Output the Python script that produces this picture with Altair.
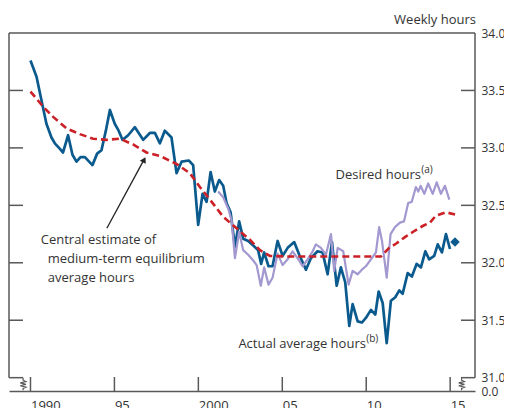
import altair as alt
import pandas as pd

# ---------------- data ----------------
actual_year = [1990.00, 1990.36, 1990.66, 1990.95, 1991.25, 1991.45, 1991.70, 1991.94, 1992.24, 1992.50,
               1992.74, 1992.98, 1993.24, 1993.69, 1993.97, 1994.23, 1994.49, 1994.73, 1995.02, 1995.25,
               1995.48, 1995.82, 1996.22, 1996.71, 1997.11, 1997.41, 1997.71, 1998.00, 1998.40, 1998.70,
               1999.00, 1999.43, 1999.69, 1999.99, 2000.25, 2000.49, 2000.73, 2000.98, 2001.24, 2001.48,
               2001.68, 2001.92, 2002.18, 2002.43, 2002.67, 2002.97, 2003.27, 2003.56, 2003.74, 2003.92,
               2004.18, 2004.42, 2004.72, 2005.02, 2005.32, 2005.71, 2006.01, 2006.41, 2006.70, 2007.10,
               2007.40, 2007.70, 2007.96, 2008.24, 2008.49, 2008.75, 2008.99, 2009.19, 2009.49, 2009.74,
               2009.98, 2010.28, 2010.54, 2010.74, 2010.98, 2011.22, 2011.47, 2011.73, 2011.97, 2012.17,
               2012.47, 2012.72, 2013.00, 2013.26, 2013.52, 2013.75, 2014.05, 2014.26, 2014.51, 2014.75,
               2014.99]
actual_hours = [33.76, 33.62, 33.41, 33.21, 33.09, 33.04, 33.00, 32.96, 33.11, 32.94,
                32.88, 32.92, 32.92, 32.85, 32.95, 32.98, 33.15, 33.33, 33.21, 33.15,
                33.07, 33.11, 33.18, 33.07, 33.13, 33.13, 33.04, 33.15, 33.09, 32.78,
                32.88, 32.89, 32.85, 32.33, 32.60, 32.53, 32.79, 32.62, 32.72, 32.67,
                32.52, 32.44, 32.14, 32.36, 32.21, 32.19, 32.15, 32.11, 31.99, 32.09,
                31.97, 31.97, 32.19, 32.06, 32.13, 32.18, 32.07, 31.94, 32.04, 32.10,
                32.09, 31.90, 32.18, 31.80, 31.96, 31.83, 31.45, 31.64, 31.49, 31.48,
                31.52, 31.59, 31.55, 31.75, 31.65, 31.30, 31.67, 31.70, 31.76, 31.73,
                31.91, 31.88, 31.99, 31.96, 32.10, 32.03, 32.06, 32.16, 32.09, 32.25,
                32.12]

desired_year = [2001.18, 2001.48, 2001.78, 2001.98, 2002.18, 2002.43, 2002.67, 2002.97, 2003.27, 2003.47,
                2003.72, 2003.92, 2004.18, 2004.42, 2004.72, 2005.02, 2005.32, 2005.61, 2005.91, 2006.21,
                2006.51, 2006.81, 2007.00, 2007.30, 2007.60, 2007.90, 2008.09, 2008.30, 2008.63, 2008.95,
                2009.19, 2009.49, 2009.74, 2009.98, 2010.28, 2010.58, 2010.77, 2010.94, 2011.22, 2011.45,
                2011.71, 2012.01, 2012.25, 2012.50, 2012.71, 2012.96, 2013.10, 2013.24, 2013.46, 2013.69,
                2013.96, 2014.20, 2014.45, 2014.69, 2014.95]
desired_hours = [32.62, 32.57, 32.47, 32.37, 32.04, 32.27, 32.11, 32.07, 32.02, 31.98,
                 31.80, 31.96, 31.81, 31.87, 32.08, 31.98, 32.03, 32.10, 32.04, 31.97,
                 32.03, 32.10, 32.16, 32.13, 32.07, 32.25, 31.93, 32.13, 32.10, 31.81,
                 31.93, 31.90, 31.94, 31.97, 32.03, 32.09, 32.31, 32.19, 31.87, 32.25,
                 32.31, 32.35, 32.36, 32.52, 32.53, 32.66, 32.62, 32.67, 32.60, 32.69,
                 32.60, 32.70, 32.60, 32.67, 32.55]

central_year = [1990.00, 1990.75, 1991.35, 1992.15, 1992.94, 1993.73, 1994.53, 1995.32, 1996.11, 1996.91,
                1997.71, 1998.70, 1999.49, 2000.09, 2000.69, 2001.48, 2002.28, 2003.07, 2003.67, 2004.26,
                2005.26, 2010.88, 2011.37, 2011.81, 2012.37, 2012.80, 2013.36, 2013.80, 2014.15, 2014.75,
                2015.29]
central_hours = [33.49, 33.36, 33.27, 33.17, 33.12, 33.08, 33.07, 33.08, 33.03, 32.96,
                 32.93, 32.86, 32.78, 32.66, 32.55, 32.40, 32.30, 32.20, 32.11, 32.06,
                 32.055, 32.055, 32.13, 32.17, 32.23, 32.27, 32.32, 32.35, 32.41, 32.44,
                 32.42]

latest_year = [2015.29]
latest_hours = [32.18]

x_tick_years = [1990, 1995, 2000, 2005, 2010, 2015]
y_tick_hours = [31.0, 31.5, 32.0, 32.5, 33.0, 33.5]
y_label_hours = [30.884, 31.0, 31.5, 32.0, 32.5, 33.0, 33.5, 34.0]

# axis-break squiggle (offsets in years / hours)
squiggle_dx = [0, 0, 0.17, -0.17, 0.17, -0.17, 0.17, 0, 0]
squiggle_y = [31.0, 30.978, 30.966, 30.954, 30.942, 30.930, 30.918, 30.907, 30.89]
break_left_year = 1989.56
break_right_year = 2015.68

# ---------------- styling ----------------
W, H = 466, 358
FONT = "Open Sans"
TXT = "#333333"
FRAME = "#595959"
BLUE = "#0b5a8e"
LAV = "#a398d0"
RED = "#cc2027"

xs = alt.Scale(domain=[1988.72, 2016.48], nice=False, zero=False)
ys = alt.Scale(domain=[30.884, 34.0], nice=False, zero=False)

X_AXIS = alt.Axis(
    values=x_tick_years, title=None, ticks=False, grid=False, domain=True,
    domainColor=FRAME, domainWidth=1.5, labelAlign="left", labelBaseline="top",
    labelPadding=8, labelFlush=False, labelOverlap=False, labelFontSize=13,
    labelExpr="datum.value == 1990 || datum.value == 2000 ? format(datum.value, 'd') : slice(format(datum.value, 'd'), 2)")
Y_AXIS = alt.Axis(
    orient="right", values=y_label_hours, title=None, ticks=False, grid=False, domain=False,
    labelAlign="left", labelBaseline="middle", labelPadding=6, labelOverlap=False, labelFlush=False,
    labelFontSize=12,
    labelExpr="datum.value < 30.95 ? '0.0' : format(datum.value, '.1f')")

X = alt.X("year:Q", scale=xs, axis=X_AXIS, title=None)
Y = alt.Y("hours:Q", scale=ys, axis=Y_AXIS, title=None)

actual_df = pd.DataFrame({"year": actual_year, "hours": actual_hours})
desired_df = pd.DataFrame({"year": desired_year, "hours": desired_hours})
central_df = pd.DataFrame({"year": central_year, "hours": central_hours})
latest_df = pd.DataFrame({"year": latest_year, "hours": latest_hours})

actual = alt.Chart(actual_df).mark_line(color=BLUE, strokeWidth=2.7, strokeJoin="round").encode(x=X, y=Y)
desired = alt.Chart(desired_df).mark_line(color=LAV, strokeWidth=2.2, strokeJoin="round").encode(x=X, y=Y)
central = alt.Chart(central_df).mark_line(color=RED, strokeWidth=2.6, strokeDash=[7, 4]).encode(x=X, y=Y)
latest = alt.Chart(latest_df).mark_point(shape="diamond", filled=True, opacity=1, color=BLUE, size=90).encode(x=X, y=Y)

# frame
one = pd.DataFrame({"a": [0]})
top_border = alt.Chart(one).mark_rule(color=FRAME, strokeWidth=1.5).encode(
    x=alt.value(0), x2=alt.value(W), y=alt.value(0))
side_df = pd.DataFrame({"hours": [34.0], "hours2": [31.0]})
left_border = alt.Chart(side_df).mark_rule(color=FRAME, strokeWidth=1.5).encode(
    x=alt.value(0), y=Y, y2="hours2:Q")
right_border = alt.Chart(side_df).mark_rule(color=FRAME, strokeWidth=1.5).encode(
    x=alt.value(W), y=Y, y2="hours2:Q")

ytick_df = pd.DataFrame({"hours": y_tick_hours})
ytick_left = alt.Chart(ytick_df).mark_rule(color=FRAME, strokeWidth=1.5).encode(
    y=Y, x=alt.value(0), x2=alt.value(14))
ytick_right = alt.Chart(ytick_df).mark_rule(color=FRAME, strokeWidth=1.5).encode(
    y=Y, x=alt.value(W - 14), x2=alt.value(W))
xtick_df = pd.DataFrame({"year": x_tick_years})
xticks = alt.Chart(xtick_df).mark_rule(color=FRAME, strokeWidth=1.5).encode(
    x=X, y=alt.value(H - 14), y2=alt.value(H))

sq_left = pd.DataFrame({"year": [break_left_year + d for d in squiggle_dx], "hours": squiggle_y,
                        "o": list(range(len(squiggle_y)))})
sq_right = pd.DataFrame({"year": [break_right_year + d for d in squiggle_dx], "hours": squiggle_y,
                         "o": list(range(len(squiggle_y)))})
squig_l = alt.Chart(sq_left).mark_line(color=FRAME, strokeWidth=1.2).encode(x=X, y=Y, order="o:Q")
squig_r = alt.Chart(sq_right).mark_line(color=FRAME, strokeWidth=1.2).encode(x=X, y=Y, order="o:Q")

# arrow
arrow_df = pd.DataFrame({"year": [1994.55, 1996.70], "hours": [32.30, 32.88], "o": [0, 1]})
arrow_line = alt.Chart(arrow_df).mark_line(color="#222222", strokeWidth=1.3).encode(x=X, y=Y, order="o:Q")
head_df = pd.DataFrame({"year": [1996.77], "hours": [32.897]})
arrow_head = alt.Chart(head_df).mark_point(shape="triangle-up", filled=True, opacity=1, color="#222222",
                                            size=45, angle=28).encode(x=X, y=Y)

# labels
def text_layer(rows, align, size=13):
    df = pd.DataFrame(rows, columns=["year", "hours", "label"])
    return alt.Chart(df).mark_text(font=FONT, fontSize=size, color=TXT, align=align, baseline="middle").encode(
        x=X, y=Y, text="label:N")

central_txt1 = text_layer([(1990.61, 32.196, "Central estimate of")], "left")
central_txt2 = text_layer([(1991.03, 32.03, "medium-term equilibrium"),
                           (1991.03, 31.87, "average hours")], "left")
desired_txt = text_layer([(2013.26, 32.76, "Desired hours")], "right")
desired_sup = text_layer([(2013.28, 32.81, "(a)")], "left", 10)
actual_txt = text_layer([(2009.98, 31.29, "Actual average hours")], "right")
actual_sup = text_layer([(2010.00, 31.335, "(b)")], "left", 10)

title = alt.Chart(one).mark_text(text="Weekly hours", font=FONT, fontSize=13, color=TXT,
                                 align="right", baseline="middle").encode(x=alt.value(W + 1), y=alt.value(-13))

chart = alt.layer(
    actual, desired, central, latest,
    top_border, left_border, right_border, ytick_left, ytick_right, xticks, squig_l, squig_r,
    arrow_line, arrow_head,
    central_txt1, central_txt2, desired_txt, desired_sup, actual_txt, actual_sup, title,
).properties(
    width=W, height=H,
    autosize=alt.AutoSizeParams(type="none"),
    padding={"left": 1, "top": 25, "right": 29, "bottom": 24},
).configure_view(stroke=None).configure_axis(
    labelFont=FONT, labelColor=TXT
)

chart.save("out.html", embed_options={"renderer": "svg", "actions": False})
